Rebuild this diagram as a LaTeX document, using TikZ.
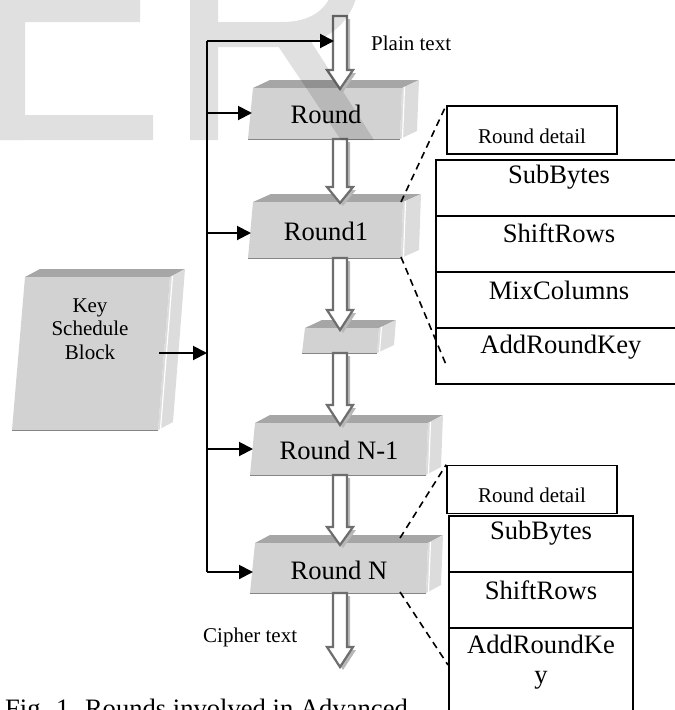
\documentclass[tikz,border=0pt]{standalone}
\usepackage{fontspec}
\setmainfont{Liberation Serif}
\usetikzlibrary{arrows.meta}

\definecolor{facefront}{HTML}{D2D2D2}
\definecolor{facetop}{HTML}{A6A6A6}
\definecolor{faceside}{HTML}{DCDCDC}
\definecolor{hollowline}{HTML}{6E6E6E}
\definecolor{hollowshadow}{HTML}{B8B8B8}

\tikzset{
  bigtext/.style={font=\fontsize{26.6}{30}\selectfont, inner sep=0pt},
  smalltext/.style={font=\fontsize{21}{23.5}\selectfont, inner sep=0pt},
  feed/.style={line width=2pt, -{Triangle[length=14pt,width=14pt]}},
  bus/.style={line width=2pt},
  detailline/.style={line width=1.6pt, dash pattern=on 7pt off 5pt},
  gridline/.style={line width=2pt},
  detailbox/.style={draw, line width=1.6pt, minimum width=170pt, minimum height=48pt, inner sep=0pt},
}

% A bevelled slab: front face (tl, tr, br, bl), top face and right side face
% #1 x top-left  #2 x top-right  #3 y top  #4 x bottom-left  #5 x bottom-right  #6 y bottom  #7 depth dx
\newcommand{\slabfaces}[7]{%
  \fill[facetop] (#1,#3) -- ({#1+#7},{#3-8}) -- ({#2+#7},{#3-8}) -- (#2,#3) -- cycle;
  \fill[faceside] (#2,#3) -- ({#2+#7},{#3-8}) -- ({#5+#7},{#6-8}) -- (#5,#6) -- cycle;
  \fill[facefront] (#1,#3) -- (#2,#3) -- (#5,#6) -- (#4,#6) -- cycle;
  \draw[white, line width=1.2pt] ({#2+2.5},{#3-1}) -- ({#5+2.5},{#6-1});
  \draw[facetop!80!black, line width=0.6pt] (#4,#6) -- (#5,#6);
}

% Hollow downward arrow: #1 x centre  #2 y stem top  #3 y head base  #4 y tip
\newcommand{\hollowarrow}[4]{%
  \fill[hollowshadow, shift={(3,3)}] ({#1-7},#2) -- ({#1+7},#2) -- ({#1+7},#3) -- ({#1+13},#3)
     -- (#1,#4) -- ({#1-13},#3) -- ({#1-7},#3) -- cycle;
  \filldraw[fill=white, draw=hollowline, line width=2.2pt, line join=miter]
     ({#1-7},#2) -- ({#1+7},#2) -- ({#1+7},#3) -- ({#1+13},#3)
     -- (#1,#4) -- ({#1-13},#3) -- ({#1-7},#3) -- cycle;
}

\begin{document}
\begin{tikzpicture}[x=1pt, y=-1pt]
\useasboundingbox (0,0) rectangle (675,710);
\clip (0,0) rectangle (675,710);

% ---- key schedule block and the round slabs ----
\slabfaces{25}{170}{277}{12}{158}{430}{15}
\node[smalltext, align=center] (key) at (90,329) {Key\\Schedule\\Block};
\coordinate (keyout) at (159,353);

\slabfaces{253}{402}{88}{248}{400}{139}{17}
\node[bigtext] (r0) at (326,114) {Round};
\slabfaces{253}{403}{202}{248}{401}{258}{18}
\node[bigtext] (r1) at (326,231) {Round1};
\slabfaces{305}{379}{328}{302}{377}{353}{17}
\coordinate (rmid) at (340,340);
\slabfaces{255}{428}{423}{250}{426}{475}{15}
\node[bigtext] (rn1) at (339,450) {Round N-1};
\slabfaces{255}{428}{543}{250}{426}{593}{15}
\node[bigtext] (rn) at (339,570) {Round N};

% ---- data path (hollow arrows) ----
\hollowarrow{340}{16}{70}{89}
\hollowarrow{340}{139}{187}{203}
\hollowarrow{340}{258}{310}{330}
\hollowarrow{340}{353}{405}{425}
\hollowarrow{340}{475}{527}{545}
\hollowarrow{340}{593}{647}{667}
\node[smalltext, anchor=west] (plain) at (371,43) {Plain text};
\node[smalltext, anchor=west] (cipher) at (203,637) {Cipher text};

% ---- round-key bus ----
\coordinate (bustop) at (207,41);
\coordinate (busbot) at (207,572);
\coordinate (ptin) at (334,41);
\coordinate (r0w) at (252,113);
\coordinate (r1w) at (251,233);
\coordinate (rn1w) at (253,449);
\coordinate (rnw) at (253,572);
\draw[bus] (bustop) -- (busbot);
\draw[feed] (bustop) -- (ptin);
\draw[feed] (r0w -| bustop) -- (r0w);
\draw[feed] (r1w -| bustop) -- (r1w);
\draw[feed] (rn1w -| bustop) -- (rn1w);
\draw[feed] (busbot) -- (rnw);
\draw[feed] (keyout) -- (keyout -| bustop);

% ---- detail of a full round ----
\node[detailbox] (d1) at (532,130) {};
\node[smalltext] at (532,136) {Round detail};
\draw[gridline] (690,160) -- (436,160) -- (436,384) -- (690,384);
\foreach \yy in {216,272,328} \draw[gridline] (436,\yy) -- (690,\yy);
\node[bigtext] (sb1) at (559,177) {SubBytes};
\node[bigtext] (sr1) at (559,233) {ShiftRows};
\node[bigtext] (mc1) at (559,290) {MixColumns};
\node[bigtext] (ak1) at (561,347) {AddRoundKey};
\coordinate (r1ne) at (401,202);
\coordinate (r1se) at (401,257);
\coordinate (d1low) at (447,367);
\draw[detailline] (r1ne) -- (d1.north west);
\draw[detailline] (r1se) -- (d1low);

% ---- detail of the final round ----
\node[detailbox] (d2) at (532,489.5) {};
\node[smalltext] at (532,495) {Round detail};
\draw[gridline] (449,720) -- (449,516) -- (633,516) -- (633,720);
\foreach \yy in {572,628} \draw[gridline] (449,\yy) -- (633,\yy);
\node[bigtext] (sb2) at (541,533) {SubBytes};
\node[bigtext] (sr2) at (541,590) {ShiftRows};
\node[bigtext, align=center, font=\fontsize{26.6}{30}\selectfont] (ak2) at (541,662) {AddRoundKe\\y};
\coordinate (rnne) at (400,538);
\coordinate (rnse) at (400,592);
\coordinate (d2low) at (448,665);
\draw[detailline] (rnne) -- (d2.north west);
\draw[detailline] (rnse) -- (d2low);

% ---- caption ----
\node[bigtext, anchor=base west] (cap) at (5,717.6) {Fig. 1. Rounds involved in Advanced};

% ---- page watermark letters ----
\begin{scope}[transparency group, opacity=0.12]
  \fill[black] (0,-10) rectangle (25,140);
  \fill[black] (0,-10) rectangle (140,22);
  \fill[black] (0,115) rectangle (153,140);
  \fill[black] (190,-10) rectangle (218,140);
  \fill[black] (210,22) -- (282,22) .. controls (308,22) and (326,12) .. (333,-10)
     -- (358,-10) .. controls (352,25) and (322,47) .. (282,47) -- (210,47) -- cycle;
  \fill[black] (274,40) -- (310,40) -- (374,140) -- (341,140) -- cycle;
\end{scope}
\end{tikzpicture}
\end{document}
